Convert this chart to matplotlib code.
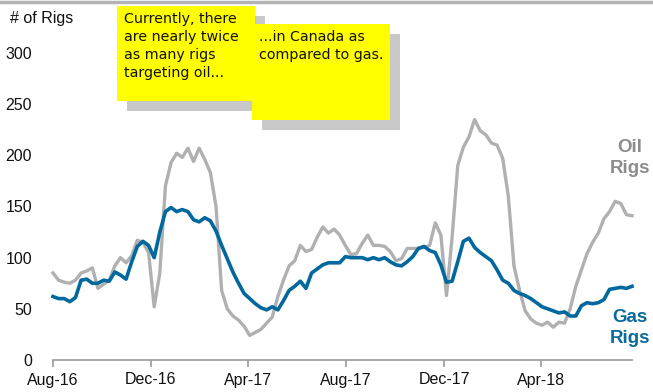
import matplotlib
matplotlib.use("Agg")
import matplotlib.pyplot as plt
import matplotlib.patches as patches
import pandas as pd

plt.rcParams['font.family'] = ['Liberation Sans', 'DejaVu Sans']

# weekly rig counts, Canada
weeks = pd.date_range("2016-08-01", periods=104, freq="7D")

gas_rigs = [62, 60, 60, 57, 61, 78, 79, 75, 75, 78,
            77, 86, 83, 79, 96, 111, 116, 112, 100, 125,
            145, 149, 145, 147, 145, 137, 135, 139, 136, 126,
            112, 99, 86, 75, 65, 60, 55, 51, 49, 52,
            49, 58, 68, 72, 77, 70, 85, 89, 93, 95,
            95, 95, 101, 100, 100, 100, 98, 100, 98, 100,
            96, 93, 92, 96, 101, 109, 111, 107, 105, 93,
            76, 77, 96, 116, 119, 110, 105, 101, 97, 88,
            78, 75, 68, 65, 63, 60, 56, 52, 50, 48,
            46, 47, 43, 43, 53, 56, 55, 56, 59, 69,
            70, 71, 70, 72]

oil_rigs = [85, 78, 76, 75, 78, 85, 87, 90, 70, 74,
            78, 92, 100, 95, 102, 117, 115, 105, 52, 85,
            170, 193, 202, 198, 207, 194, 207, 196, 183, 150,
            68, 50, 43, 39, 33, 24, 27, 30, 36, 42,
            62, 78, 92, 97, 112, 106, 108, 120, 130, 124,
            128, 122, 112, 103, 104, 114, 122, 112, 112, 111,
            106, 97, 99, 109, 109, 109, 110, 112, 134, 122,
            63, 120, 190, 208, 218, 235, 224, 220, 212, 210,
            197, 160, 92, 68, 48, 40, 36, 34, 37, 32,
            37, 36, 50, 72, 88, 104, 115, 124, 138, 145,
            155, 153, 142, 141]

tick_dates = pd.to_datetime(["2016-08-01", "2016-12-01", "2017-04-01",
                             "2017-08-01", "2017-12-01", "2018-04-01"])
tick_labels = ["Aug-16", "Dec-16", "Apr-17", "Aug-17", "Dec-17", "Apr-18"]
y_ticks = [0, 50, 100, 150, 200, 250, 300]

oil_color = "#b0b0b0"
gas_color = "#00689c"

W, H = 653, 392
fig = plt.figure(figsize=(W / 100, H / 100), dpi=100)
ax = fig.add_axes([53 / W, 1 - 360 / H, (632 - 53) / W, (360 - 53) / H])

ax.plot(weeks, oil_rigs, color=oil_color, lw=2.4, solid_joinstyle="round", clip_on=False)
ax.plot(weeks, gas_rigs, color=gas_color, lw=2.6, solid_joinstyle="round", clip_on=False)

ax.set_ylim(0, 300)
ax.set_xlim(weeks[0], weeks[-1])
ax.set_yticks(y_ticks)
ax.set_xticks(tick_dates)
ax.set_xticklabels(tick_labels)

for s in ["top", "right", "left"]:
    ax.spines[s].set_visible(False)
ax.spines["bottom"].set_color("#999999")
ax.spines["bottom"].set_linewidth(1.2)
ax.tick_params(axis="y", length=0, pad=15, labelsize=11.5, labelcolor="#111111")
ax.tick_params(axis="x", length=5, width=1.2, color="#999999", pad=4,
               labelsize=11.5, labelcolor="#111111")

# top border
fig.add_artist(plt.Line2D([0, 1], [1 - 1.5 / H] * 2, transform=fig.transFigure,
                          color="#b3b3b3", lw=2.5))

fig.text(10 / W, 1 - 18 / H, "# of Rigs", fontsize=11.5, va="center", ha="left",
         color="#111111")

# series labels
fig.text(630 / W, 1 - 158 / H, "Oil\nRigs", color="#8c8c8c", fontsize=13.5,
         fontweight="bold", ha="center", va="center", linespacing=1.3)
fig.text(630 / W, 1 - 328 / H, "Gas\nRigs", color="#0b6a9b", fontsize=13.5,
         fontweight="bold", ha="center", va="center", linespacing=1.3)


def callout(x0, y0, x1, y1, dx, dy, text):
    # pixel coords from the top-left corner of the figure
    shadow = patches.Rectangle(((x0 + dx) / W, 1 - (y1 + dy) / H),
                               (x1 - x0) / W, (y1 - y0) / H, transform=fig.transFigure,
                               facecolor="#c8c8c8", edgecolor="none")
    box = patches.Rectangle((x0 / W, 1 - y1 / H), (x1 - x0) / W, (y1 - y0) / H,
                            transform=fig.transFigure, facecolor="#ffff00", edgecolor="none")
    fig.add_artist(shadow)
    fig.add_artist(box)
    fig.text((x0 + 7) / W, 1 - (y0 + 6) / H, text, fontsize=10.3, va="top", ha="left",
             family=["DejaVu Sans"], linespacing=1.35, color="#111111")


callout(117, 6, 255, 101, 10, 10, "Currently, there\nare nearly twice\nas many rigs\ntargeting oil...")
callout(252, 24, 390, 120, 10, 10, "...in Canada as\ncompared to gas.")

fig.savefig("out.png", dpi=100)
